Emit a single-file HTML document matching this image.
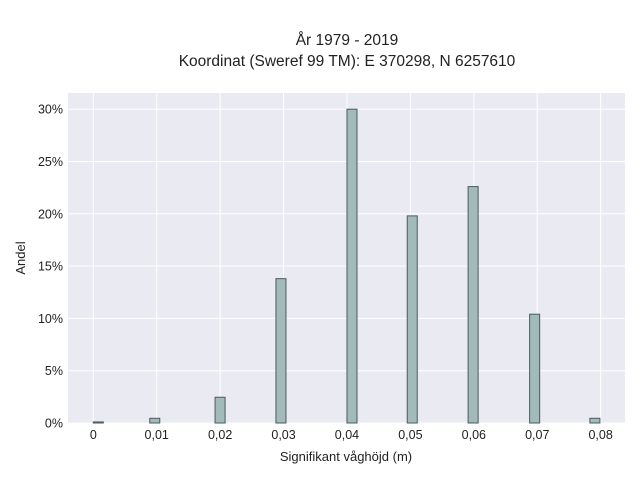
<!DOCTYPE html>
<html><head><meta charset="utf-8"><style>
body{margin:0;background:#fff;font-family:"Liberation Sans",sans-serif}
svg text{font-family:"Liberation Sans",sans-serif;fill:#222}
</style></head><body>
<svg width="640" height="480" id="c">
<text x="347" y="45" text-anchor="middle" font-size="15.5">År 1979 - 2019</text>
<text x="347" y="66" text-anchor="middle" font-size="15.5">Koordinat (Sweref 99 TM): E 370298, N 6257610</text>
<rect x="68" y="93" width="557" height="330" fill="#eaeaf2"/>
<g id="grid"></g><g id="bars"></g><g id="ticks"></g>
<text x="346" y="461" text-anchor="middle" font-size="13">Signifikant våghöjd (m)</text>
<text transform="translate(25,258) rotate(-90)" text-anchor="middle" font-size="13">Andel</text>
</svg>
<script>
const binStarts=[0.0000,0.0089,0.0192,0.0288,0.0400,0.0495,0.0591,0.0688,0.0783];
const shares=[0.1,0.45,2.46,13.8,30.0,19.8,22.6,10.4,0.45];
const xTicks=[0,0.01,0.02,0.03,0.04,0.05,0.06,0.07,0.08];
const xTickLabels=["0","0,01","0,02","0,03","0,04","0,05","0,06","0,07","0,08"];
const yTicks=[0,5,10,15,20,25,30];
const yTickLabels=["0%","5%","10%","15%","20%","25%","30%"];
const binWidth=0.00158;
const NS="http://www.w3.org/2000/svg";
const X=v=>93.3+v/0.01*63.42;
const Y=v=>423-v*10.46;
const grid=document.getElementById('grid'),bars=document.getElementById('bars'),ticks=document.getElementById('ticks');
function mk(tag,attrs,parent){const e=document.createElementNS(NS,tag);for(const k in attrs)e.setAttribute(k,attrs[k]);parent.appendChild(e);return e;}
xTicks.forEach((v,i)=>{
 const l=mk('line',{x1:X(v),x2:X(v),y1:93,y2:423,stroke:'#fff','stroke-width':1},grid);
 
 
 const t=mk('text',{x:X(v),y:439,'text-anchor':'middle','font-size':12.5},ticks);
 t.textContent=xTickLabels[i];
 
 
});
yTicks.forEach((v,i)=>{
 const l=mk('line',{x1:68,x2:625,y1:Y(v),y2:Y(v),stroke:'#fff','stroke-width':1},grid);
 
 
 const t=mk('text',{x:63,y:Y(v)+4.5,'text-anchor':'end','font-size':12.5},ticks);
 t.textContent=yTickLabels[i];
 
 
});
binStarts.forEach((s,i)=>{
 const x0=X(s),x1=X(s+binWidth),y=Y(shares[i]);
 const r=mk('rect',{x:x0,y:y,width:x1-x0,height:423-y,fill:'#a0bbba',stroke:'#4e5a5a','stroke-width':1},bars);
 
 
});
</script>
</body></html>
